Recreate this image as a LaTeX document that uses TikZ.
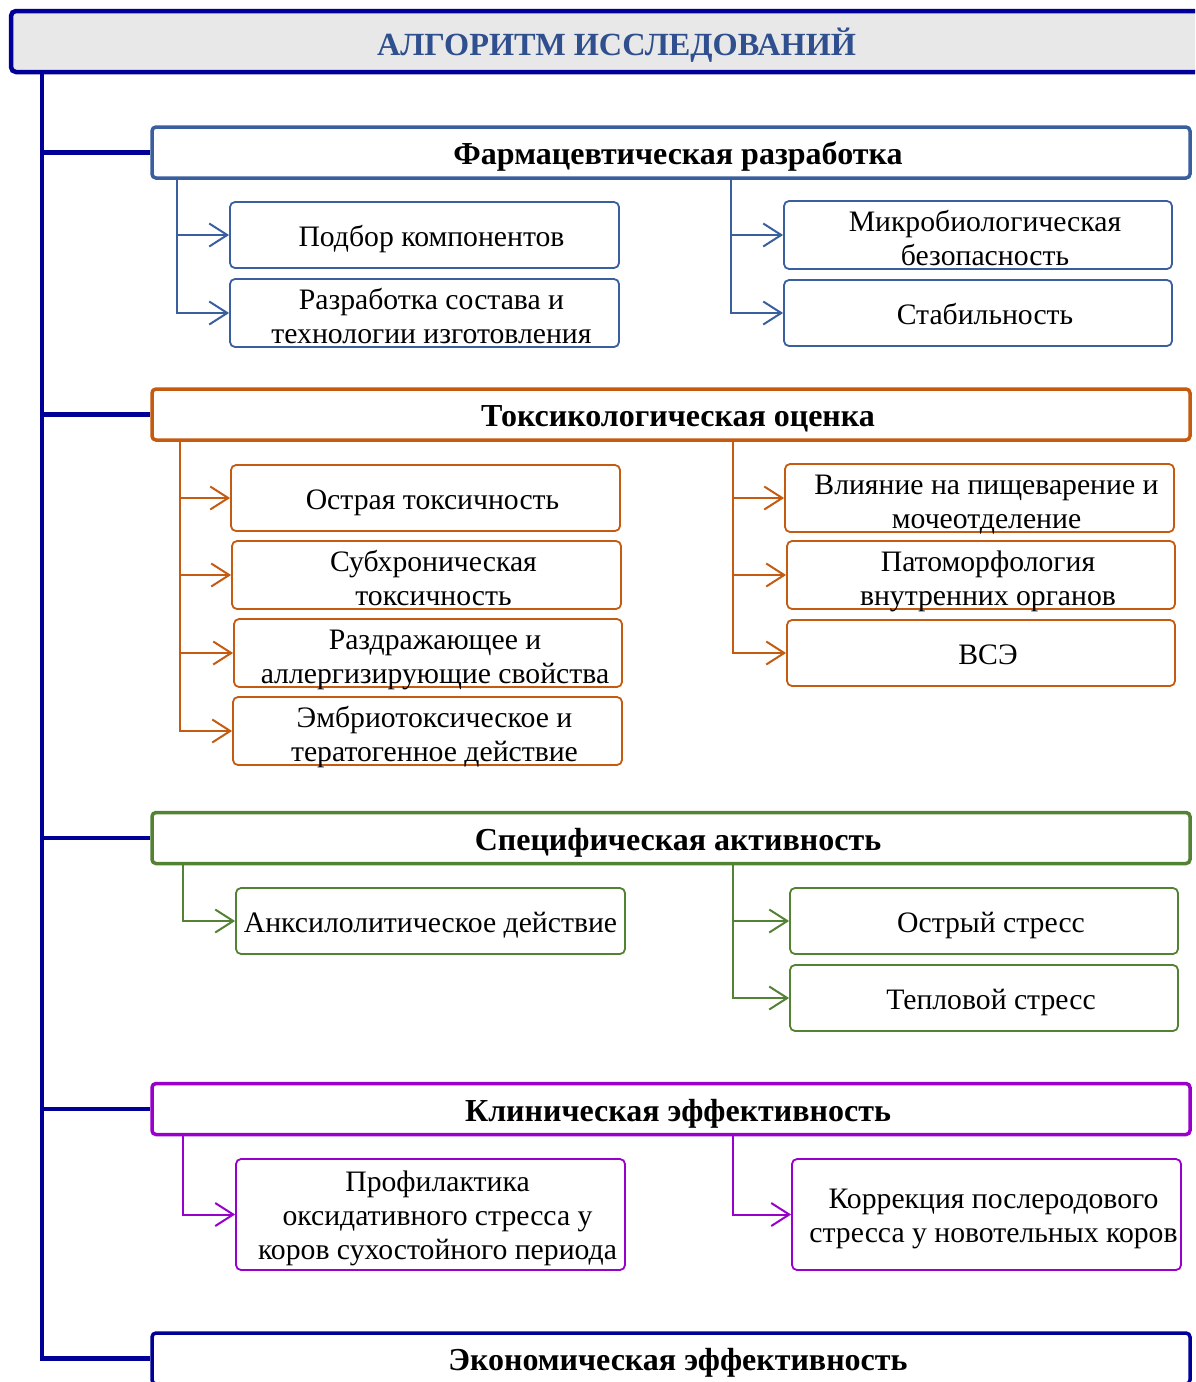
\documentclass[tikz,border=0pt]{standalone}
\usepackage{fontspec}
\setmainfont{Liberation Serif}
\usetikzlibrary{arrows.meta}
\definecolor{spineC}{HTML}{000099}
\definecolor{hdrFill}{HTML}{E8E8E8}
\definecolor{hdrText}{HTML}{2F4F8F}
\definecolor{bluC}{HTML}{3A5F9E}
\definecolor{oraC}{HTML}{C55A11}
\definecolor{grnC}{HTML}{548235}
\definecolor{purC}{HTML}{9900CC}
\newcommand\shtxt[2][5pt]{\raisebox{-#1}[\height][\depth]{\begin{tabular}{@{\hspace{14pt}}c@{}}#2\end{tabular}}}
\newcommand\cntxt[2][5pt]{\raisebox{-#1}[\height][\depth]{\begin{tabular}{@{}c@{}}#2\end{tabular}}}
\tikzset{
  spine/.style={draw=spineC, line width=4.5pt},
  hdrbox/.style={draw=spineC, fill=hdrFill, line width=4.5pt, rounded corners=5pt,
                 minimum width=1211pt, minimum height=61pt, inner sep=0pt,
                 text=hdrText, font=\bfseries\fontsize{32.3}{36}\selectfont},
  sect/.style={draw=#1, fill=white, line width=3.5pt, rounded corners=4pt,
               minimum width=1038pt, minimum height=51pt, inner sep=0pt,
               font=\bfseries\fontsize{32}{36}\selectfont},
  cbox/.style={draw=#1, fill=white, line width=1.8pt, rounded corners=5pt,
               minimum width=389pt, minimum height=66pt, inner sep=0pt,
               font=\fontsize{29.7}{34}\selectfont},
  tall/.style={minimum height=111pt},
  conn/.style={draw=#1, line width=2pt,
               -{Straight Barb[length=18pt, width=23pt, line width=2pt]}}
}
\begin{document}
\begin{tikzpicture}[x=1pt,y=-1pt]
\useasboundingbox (0,0) rectangle (1195,1382);
\clip (0,0) rectangle (1195,1382);

% header
\node[hdrbox] (hdr) at (616.5,41.5) {\cntxt[6pt]{АЛГОРИТМ ИССЛЕДОВАНИЙ}};
\coordinate (sp) at ([xshift=33pt]hdr.south west);

% section boxes
\node[sect=bluC] (s1) at (671,152.5) {\shtxt{Фармацевтическая разработка}};
\node[sect=oraC] (s2) at (671,414.5) {\shtxt{Токсикологическая оценка}};
\node[sect=grnC] (s3) at (671,838) {\shtxt{Специфическая активность}};
\node[sect=purC] (s4) at (671,1109) {\shtxt{Клиническая эффективность}};
\node[sect=spineC] (s5) at (671,1358.5) {\shtxt{Экономическая эффективность}};

% spine
\draw[spine] (sp) |- (s5.west);
\foreach \s in {s1,s2,s3,s4} \draw[spine] (sp |- \s.west) -- (\s.west);

% section 1 children
\node[cbox=bluC] (p1) at (424.5,235) {\shtxt{Подбор компонентов}};
\node[cbox=bluC] (p2) at (424.5,313) {\shtxt[7pt]{Разработка состава и\\технологии изготовления}};
\node[cbox=bluC, minimum width=388pt] (p3) at (978,235) {\shtxt[7pt]{Микробиологическая\\безопасность}};
\node[cbox=bluC, minimum width=388pt] (p4) at (978,313) {\shtxt{Стабильность}};
\foreach \c in {p1,p2} \draw[conn=bluC] ([xshift=27pt]s1.south west) |- (\c.west);
\foreach \c in {p3,p4} \draw[conn=bluC] ([xshift=581pt]s1.south west) |- (\c.west);

% section 2 children
\node[cbox=oraC] (t1) at (425.5,498) {\shtxt{Острая токсичность}};
\node[cbox=oraC] (t2) at (426.5,575) {\shtxt[7pt]{Субхроническая\\токсичность}};
\node[cbox=oraC, minimum width=388pt] (t3) at (428,653) {\shtxt[7pt]{Раздражающее и\\аллергизирующие свойства}};
\node[cbox=oraC] (t4) at (427.5,731) {\shtxt[7pt]{Эмбриотоксическое и\\тератогенное действие}};
\node[cbox=oraC] (t5) at (979.5,498) {\shtxt[7pt]{Влияние на пищеварение и\\мочеотделение}};
\node[cbox=oraC, minimum width=388pt] (t6) at (981,575) {\shtxt[7pt]{Патоморфология\\внутренних органов}};
\node[cbox=oraC, minimum width=388pt] (t7) at (981,653) {\shtxt{ВСЭ}};
\foreach \c in {t1,t2,t3,t4} \draw[conn=oraC] ([xshift=30pt]s2.south west) |- (\c.west);
\foreach \c in {t5,t6,t7} \draw[conn=oraC] ([xshift=583pt]s2.south west) |- (\c.west);

% section 3 children
\node[cbox=grnC] (g1) at (430.5,921) {\cntxt{Анксилолитическое действие}};
\node[cbox=grnC, minimum width=388pt] (g2) at (984,921) {\shtxt{Острый стресс}};
\node[cbox=grnC, minimum width=388pt] (g3) at (984,998) {\shtxt{Тепловой стресс}};
\draw[conn=grnC] ([xshift=33pt]s3.south west) |- (g1.west);
\foreach \c in {g2,g3} \draw[conn=grnC] ([xshift=583pt]s3.south west) |- (\c.west);

% section 4 children
\node[cbox=purC, tall] (k1) at (430.5,1214.5) {\shtxt[4pt]{Профилактика\\оксидативного стресса у\\коров сухостойного периода}};
\node[cbox=purC, tall] (k2) at (986.5,1214.5) {\shtxt[4pt]{Коррекция послеродового\\стресса у новотельных коров}};
\draw[conn=purC] ([xshift=33pt]s4.south west) |- (k1.west);
\draw[conn=purC] ([xshift=583pt]s4.south west) |- (k2.west);
\end{tikzpicture}
\end{document}
